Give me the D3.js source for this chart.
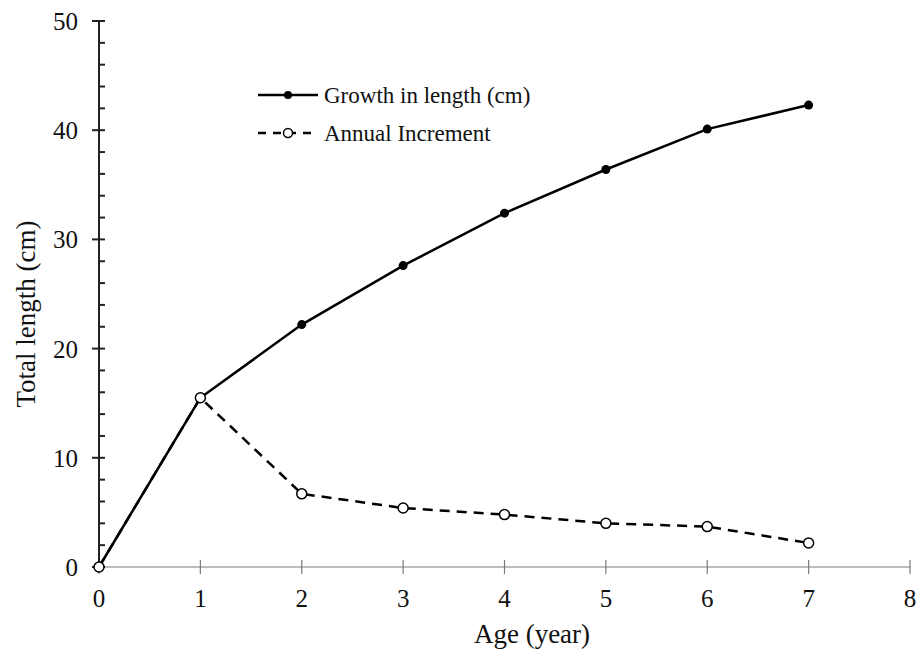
<!DOCTYPE html>
<html>
<head>
<meta charset="utf-8">
<script src="https://cdn.jsdelivr.net/npm/d3@7"></script>
<style>
  html, body { margin: 0; padding: 0; background: #fff; }
  svg { display: block; font-family: "Liberation Serif", "Times New Roman", serif; }
</style>
</head>
<body>
<svg id="chart" width="919" height="655"></svg>
<script>
// Age in years
const ages = [0, 1, 2, 3, 4, 5, 6, 7];
// Total length reached at each age (cm)
const growthLength = [0, 15.5, 22.2, 27.6, 32.4, 36.4, 40.1, 42.3];
// Length gained during each year (cm)
const annualIncrement = [0, 15.5, 6.7, 5.4, 4.8, 4.0, 3.7, 2.2];
const xTicks = [0, 1, 2, 3, 4, 5, 6, 7, 8];
const yTicks = [0, 10, 20, 30, 40, 50];
const yMinorTicks = d3.range(0, 50.01, 2);
const seriesNames = ["Growth in length (cm)", "Annual Increment"];

const svg = d3.select("#chart");
const x = d3.scaleLinear().domain([0, 8]).range([99, 910]);
const y = d3.scaleLinear().domain([0, 50]).range([567, 21]);

// x axis: thin grey line, ticks crossing it
const xAxis = svg.append("g").attr("transform", `translate(0,${y(0)})`);
xAxis.append("line").attr("x1", x(0)).attr("x2", x(8))
  .attr("stroke", "#7a7a7a").attr("stroke-width", 1.2);
xAxis.selectAll(".xt").data(xTicks).enter().append("line")
  .attr("x1", d => x(d)).attr("x2", d => x(d))
  .attr("y1", -7).attr("y2", 7)
  .attr("stroke", "#7a7a7a").attr("stroke-width", 1.2);
xAxis.selectAll(".xl").data(xTicks).enter().append("text")
  .attr("x", d => x(d)).attr("y", 40)
  .attr("text-anchor", "middle")
  .attr("font-size", 25).attr("fill", "#111")
  .text(d => d);

// y axis: dark line, major ticks crossing, minor ticks inside
const yAxis = svg.append("g").attr("transform", `translate(${x(0)},0)`);
yAxis.append("line").attr("y1", y(0)).attr("y2", y(50))
  .attr("stroke", "#222").attr("stroke-width", 2);
yAxis.selectAll(".ym").data(yMinorTicks.filter(v => v % 10 !== 0)).enter().append("line")
  .attr("x1", 0).attr("x2", 6)
  .attr("y1", d => y(d)).attr("y2", d => y(d))
  .attr("stroke", "#222").attr("stroke-width", 2);
yAxis.selectAll(".yt").data(yTicks).enter().append("line")
  .attr("x1", -7).attr("x2", 6)
  .attr("y1", d => y(d)).attr("y2", d => y(d))
  .attr("stroke", "#222").attr("stroke-width", 2);
yAxis.selectAll(".yl").data(yTicks).enter().append("text")
  .attr("x", -21).attr("y", d => y(d) + 9)
  .attr("text-anchor", "end")
  .attr("font-size", 25).attr("fill", "#111")
  .text(d => d);

// axis titles
svg.append("text").attr("x", 532).attr("y", 643)
  .attr("text-anchor", "middle").attr("font-size", 27).attr("fill", "#111")
  .text("Age (year)");
svg.append("text")
  .attr("transform", `translate(35,${(y(0) + y(50)) / 2 + 20}) rotate(-90)`)
  .attr("text-anchor", "middle").attr("font-size", 27).attr("fill", "#111")
  .text("Total length (cm)");

const line = d3.line().x(d => x(d[0])).y(d => y(d[1]));
const growthPts = ages.map((a, i) => [a, growthLength[i]]);
const incPts = ages.map((a, i) => [a, annualIncrement[i]]);

// growth curve
svg.append("path").datum(growthPts).attr("d", line)
  .attr("fill", "none").attr("stroke", "#000").attr("stroke-width", 2.5);
// annual increment curve
svg.append("path").datum(incPts).attr("d", line)
  .attr("fill", "none").attr("stroke", "#000").attr("stroke-width", 2.5)
  .attr("stroke-dasharray", "10,7");

svg.selectAll(".gp").data(growthPts).enter().append("circle")
  .attr("cx", d => x(d[0])).attr("cy", d => y(d[1])).attr("r", 4.5)
  .attr("fill", "#000");
svg.selectAll(".ip").data(incPts).enter().append("circle")
  .attr("cx", d => x(d[0])).attr("cy", d => y(d[1])).attr("r", 5)
  .attr("fill", "#fff").attr("stroke", "#000").attr("stroke-width", 1.5);

// legend
const legend = svg.append("g");
const lx0 = 258, lx1 = 318, ly = [95, 133];
legend.append("line").attr("x1", lx0).attr("x2", lx1).attr("y1", ly[0]).attr("y2", ly[0])
  .attr("stroke", "#000").attr("stroke-width", 2.5);
legend.append("circle").attr("cx", (lx0 + lx1) / 2).attr("cy", ly[0]).attr("r", 4).attr("fill", "#000");
legend.append("line").attr("x1", lx0).attr("x2", lx1).attr("y1", ly[1]).attr("y2", ly[1])
  .attr("stroke", "#000").attr("stroke-width", 2.5).attr("stroke-dasharray", "8,7");
legend.append("circle").attr("cx", (lx0 + lx1) / 2).attr("cy", ly[1]).attr("r", 4.5)
  .attr("fill", "#fff").attr("stroke", "#000").attr("stroke-width", 1.5);
legend.selectAll(".lt").data(seriesNames).enter().append("text")
  .attr("x", 324).attr("y", (d, i) => ly[i] + 8)
  .attr("font-size", 23).attr("fill", "#111")
  .text(d => d);
</script>
</body>
</html>
